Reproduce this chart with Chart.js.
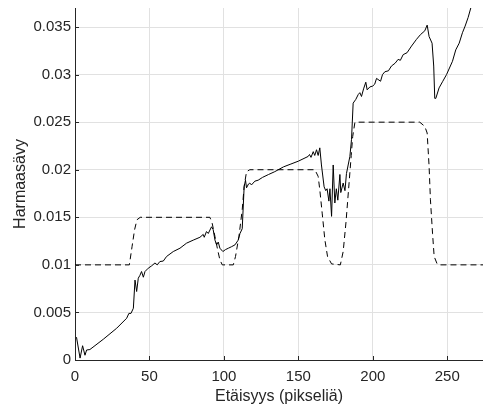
<!DOCTYPE html>
<html>
<head>
<meta charset="utf-8">
<script src="https://cdn.jsdelivr.net/npm/chart.js@4.4.1/dist/chart.umd.min.js"></script>
<style>
  body { margin: 0; background: #fff; }
  canvas { display: block; }
</style>
</head>
<body>
<canvas id="chart" width="483" height="409"></canvas>
<script>
// measured profile (solid)
const solidX = [1, 3.4, 5.1, 6.7, 7.8, 10, 19, 28, 34.7, 36.2, 37.6, 39.2, 40.3, 41.4, 42.5, 43.6, 44.7, 45.9, 47, 49.2,
  51.5, 53.7, 55.2, 57, 59.3, 61.5, 66, 70.5, 74.9, 79.4, 83.9, 86.1, 86.8, 88.3, 89.5, 91.7, 92.8, 94, 95.1, 96.2,
  97.3, 99.3, 101, 103, 105, 107.4, 109.6, 110.8, 112.3, 113.6, 114.5, 115.2, 116.5, 117.4, 118.5, 120.8, 123, 126, 130, 134.2,
  140, 145, 150, 156.6, 157.5, 158.5, 160, 161, 162.2, 163.3, 164.4, 165.5, 167.3, 168.4, 169.3, 170.5, 171.2, 172.3, 173.4, 174.5,
  175.5, 176.5, 177.9, 178.5, 180.1, 181.3, 182.3, 184.6, 185.7, 186.8, 188.6, 190.2, 191.3, 192.4, 193.8, 195.3, 196.2, 198, 200, 201.3,
  202.5, 205.2, 206.5, 208.1, 210.5, 212.5, 215, 217, 218.5, 220.4, 223, 226, 229.3, 232, 234.9, 236.5, 237.8, 239.8, 240.9, 241.6,
  242.3, 244.5, 247, 249.5, 253.5, 255.7, 258, 260.2, 262, 264, 265.8, 267.5];
const solidY = [0.0024, 0.0002, 0.0015, 0.0005, 0.00105, 0.0011, 0.00218, 0.00334, 0.00439, 0.0049, 0.0049, 0.00544, 0.0084, 0.0072, 0.0086, 0.0089, 0.0093, 0.0087, 0.0093, 0.00965,
  0.0099, 0.0102, 0.0100, 0.01035, 0.0104, 0.01088, 0.0114, 0.01175, 0.01228, 0.0126, 0.0129, 0.0132, 0.0129, 0.0135, 0.0133, 0.0140, 0.0137, 0.0126, 0.0121, 0.0124,
  0.01175, 0.0114, 0.0116, 0.01175, 0.0119, 0.0121, 0.0126, 0.0133, 0.0138, 0.0182, 0.0189, 0.0181, 0.0185, 0.0186, 0.0184, 0.0188, 0.0189, 0.0192, 0.0195, 0.0198,
  0.0203, 0.0206, 0.0209, 0.0214, 0.0216, 0.0213, 0.0219, 0.0215, 0.0221, 0.0215, 0.0223, 0.0205, 0.0182, 0.0178, 0.0180, 0.0167, 0.0180, 0.0151, 0.0205, 0.0165,
  0.0180, 0.0168, 0.0195, 0.0176, 0.0186, 0.0178, 0.0196, 0.0214, 0.0232, 0.0270, 0.0274, 0.0279, 0.0281, 0.0277, 0.0285, 0.0292, 0.0284, 0.0287, 0.0288, 0.0290,
  0.0296, 0.0293, 0.0300, 0.0303, 0.0304, 0.0309, 0.0312, 0.0316, 0.0315, 0.0321, 0.0323, 0.0330, 0.0337, 0.0342, 0.0346, 0.0352, 0.0340, 0.0333, 0.0309, 0.0275,
  0.0275, 0.0286, 0.0293, 0.0300, 0.0314, 0.0326, 0.0333, 0.0344, 0.0351, 0.0360, 0.0370, 0.0378];

// reference template (dashed)
const dashX = [0, 36.5, 38.3, 40, 41.6, 43.8, 90.6, 92.1, 94, 95.8, 97.3, 98.9, 106.3, 107.8, 110.1, 112.3, 113.6, 115.2, 117.4,
  161.1, 163.3, 164.4, 166, 167.8, 169.6, 172.3, 178.2, 180.1, 182, 184, 185.5, 186.5, 188, 231.5, 234.9, 236.5, 237.8, 238.7,
  240.1, 241.2, 243.2, 244.5, 274];
const dashY = [0.01, 0.01, 0.0119, 0.01368, 0.01474, 0.015, 0.015, 0.01438, 0.01298, 0.01158, 0.01053, 0.01, 0.01, 0.01088, 0.0130, 0.0158, 0.01825, 0.0198, 0.02,
  0.02, 0.0193, 0.0179, 0.01544, 0.01263, 0.01088, 0.0101, 0.01, 0.0114, 0.0145, 0.0185, 0.0215, 0.0235, 0.025, 0.025, 0.02456, 0.02386, 0.02035, 0.01684,
  0.01333, 0.01088, 0.0101, 0.01, 0.01];

const xTickValues = [0, 50, 100, 150, 200, 250];
const yTickValues = [0, 0.005, 0.01, 0.015, 0.02, 0.025, 0.03, 0.035];
const yTickLabels = ['0', '0.005', '0.01', '0.015', '0.02', '0.025', '0.03', '0.035'];

const axisColor = '#262626';
const gridColor = '#e1e1e1';
const fontFamily = '"Liberation Sans", Arial, sans-serif';

// MATLAB style ticks pointing into the plot
const innerTicks = {
  id: 'innerTicks',
  afterDraw(chart) {
    const { ctx, chartArea: a, scales: { x, y } } = chart;
    ctx.save();
    ctx.strokeStyle = axisColor;
    ctx.lineWidth = 1;
    ctx.beginPath();
    xTickValues.forEach(v => {
      const px = Math.round(x.getPixelForValue(v)) + 0.5;
      ctx.moveTo(px, a.bottom);
      ctx.lineTo(px, a.bottom - 4);
    });
    yTickValues.forEach(v => {
      const py = Math.round(y.getPixelForValue(v)) + 0.5;
      ctx.moveTo(a.left, py);
      ctx.lineTo(a.left + 4, py);
    });
    ctx.stroke();
    ctx.restore();
  }
};

new Chart(document.getElementById('chart'), {
  type: 'line',
  data: {
    datasets: [
      {
        data: solidX.map((x, i) => ({ x: x, y: solidY[i] })),
        borderColor: '#000',
        borderWidth: 1,
        pointRadius: 0,
        tension: 0
      },
      {
        data: dashX.map((x, i) => ({ x: x, y: dashY[i] })),
        borderColor: '#000',
        borderWidth: 1,
        borderDash: [6, 4],
        pointRadius: 0,
        tension: 0
      }
    ]
  },
  options: {
    responsive: false,
    animation: false,
    devicePixelRatio: 1,
    layout: { padding: { top: 8, right: 0, left: 0, bottom: 0 } },
    plugins: { legend: { display: false }, tooltip: { enabled: false } },
    scales: {
      x: {
        type: 'linear',
        min: 0,
        max: 274,
        afterBuildTicks: s => { s.ticks = xTickValues.map(v => ({ value: v })); },
        afterFit: s => { s.height = 49; s.paddingLeft = 0; s.paddingRight = 0; },
        grid: { color: gridColor, drawTicks: false },
        border: { color: axisColor, width: 1 },
        ticks: { color: axisColor, padding: 8, maxRotation: 0, font: { family: fontFamily, size: 15 } },
        title: {
          display: true,
          text: 'Etäisyys (pikseliä)',
          color: axisColor,
          padding: { top: 0, bottom: 3 },
          font: { family: fontFamily, size: 16 }
        }
      },
      y: {
        min: 0,
        max: 0.037,
        afterBuildTicks: s => { s.ticks = yTickValues.map(v => ({ value: v })); },
        afterFit: s => { s.width = 75; s.paddingTop = 0; s.paddingBottom = 0; },
        grid: { color: gridColor, drawTicks: false },
        border: { color: axisColor, width: 1 },
        ticks: {
          color: axisColor,
          padding: 4,
          font: { family: fontFamily, size: 15 },
          callback: (v, i) => yTickLabels[i]
        },
        title: {
          display: true,
          text: 'Harmaasävy',
          color: axisColor,
          padding: { top: 11, bottom: 0 },
          font: { family: fontFamily, size: 16 }
        }
      }
    }
  },
  plugins: [innerTicks]
});
</script>
</body>
</html>
